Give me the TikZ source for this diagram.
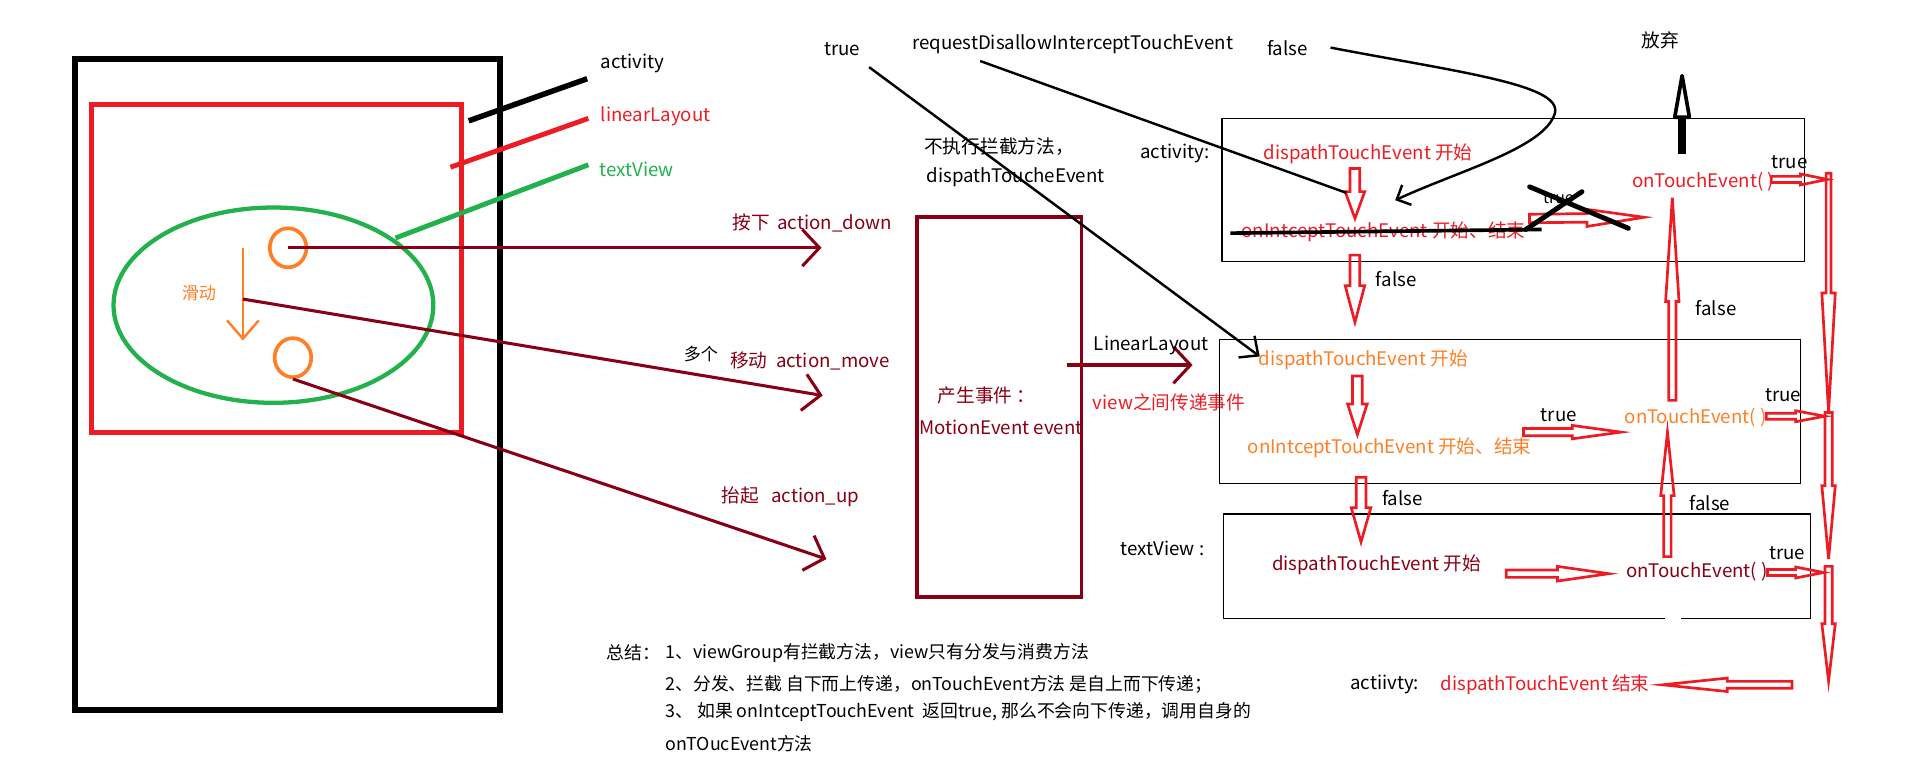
\documentclass[tikz,border=0pt]{standalone}
\usepackage{fontspec}
\setmainfont{Noto Sans CJK SC}
\usetikzlibrary{arrows.meta, calc, shapes.geometric}

\definecolor{pred}{RGB}{237,28,36}
\definecolor{pmaroon}{RGB}{136,0,21}
\definecolor{porange}{RGB}{255,127,39}
\definecolor{pgreen}{RGB}{34,177,76}

% paint style hollow arrow: from, to, shaft half width, head half width, head length
\newcommand{\hollowarrow}[5]{%
  \coordinate (hb) at ($(#2)!#5!(#1)$);
  \draw[hollow] ($(#1)!#3!90:(#2)$) -- ($(hb)!#3!90:(#2)$) -- ($(hb)!#4!90:(#2)$) -- (#2)
    -- ($(hb)!#4!-90:(#2)$) -- ($(hb)!#3!-90:(#2)$) -- ($(#1)!#3!-90:(#2)$) -- cycle;
}

\begin{document}
\begin{tikzpicture}[
    x=1pt, y=-1pt,
    txt/.style={anchor=west, inner sep=0pt, font=\fontsize{15.3}{18}\selectfont},
    small txt/.style={txt, font=\fontsize{13}{16}\selectfont},
    note/.style={txt, font=\fontsize{14.6}{18}\selectfont},
    hollow/.style={draw=pred, line width=2.2pt, line join=miter},
    flow box/.style={draw, line width=1pt, inner sep=0pt},
    event line/.style={draw=pmaroon, line width=2.5pt, -{Straight Barb[length=14pt, width=30pt]}},
    pen line/.style={line width=2pt}
]
    \useasboundingbox (0,0) rectangle (1568,635);

    % Screen
    \draw[line width=4.5pt] (61.5,48.5) rectangle (409.5,581.5);
    \draw[pred, line width=4pt] (75,85.5) rectangle (378,354);
    \node[ellipse, draw=pgreen, line width=3.5pt, minimum width=262, minimum height=160, inner sep=0pt] (tvshape) at (224,250) {};
    \node[ellipse, draw=porange, line width=3pt, minimum width=30, minimum height=32, inner sep=0pt] (downpt) at (236,203) {};
    \node[ellipse, draw=porange, line width=3pt, minimum width=30, minimum height=32, inner sep=0pt] (uppt) at (240,293) {};
    \coordinate (slidetop) at (199,203);
    \coordinate (slidemid) at (199,245);
    \coordinate (slidebot) at (199,279);
    \draw[porange, line width=2pt, -{Straight Barb[length=15pt, width=26pt]}] (slidetop) -- (slidebot);
    \node[txt, anchor=center, text=porange, font=\fontsize{14}{16}\selectfont] (slide) at (163,240) {滑动};

    % Layer labels
    \node[txt] (lblact) at (492,52) {activity};
    \node[txt, text=pred] (lblll) at (492,95) {linearLayout};
    \node[txt, text=pgreen] (lbltv) at (491,139) {textView};
    \coordinate (actpin) at (384,99);   \coordinate (actend) at (481,64.5);
    \coordinate (llpin) at (369,137);   \coordinate (llend) at (482,97);
    \coordinate (tvpin) at (324,195);   \coordinate (tvend) at (482,135);
    \draw[line width=4.5pt] (actpin) -- (actend);
    \draw[pred, line width=4pt] (llpin) -- (llend);
    \draw[pgreen, line width=4pt] (tvpin) -- (tvend);

    % Touch actions
    \coordinate (downtip) at (673,203);
    \coordinate (movetip) at (674,324);
    \coordinate (uptip) at (677,458);
    \draw[event line] (downpt.center) -- (downtip);
    \draw[event line] (slidemid) -- (movetip);
    \draw[event line] (uppt.south) -- (uptip);
    \node[txt, text=pmaroon] (downlbl) at (600,183) {按下\hspace{6pt}action\_down};
    \node[txt, font=\fontsize{14}{16}\selectfont] (manylbl) at (560,290) {多个};
    \node[txt, text=pmaroon] (movelbl) at (598,296) {移动\hspace{7pt}action\_move};
    \node[txt, text=pmaroon] (uplbl) at (591,407) {抬起\hspace{10pt}action\_up};

    % Event source
    \node[draw=pmaroon, line width=3pt, minimum width=135, minimum height=311, inner sep=0pt] (evbox) at (818.5,333.5) {};
    \node[txt, text=pmaroon] (evlbl1) at (768,324) {产生事件 ：};
    \node[txt, text=pmaroon] (evlbl2) at (753,350) {MotionEvent event};
    \coordinate (evout) at (874,299);
    \coordinate (llin) at (977,299);
    \draw[event line] (evout) -- (llin);
    \node[txt] (llname) at (896,283) {LinearLayout};
    \node[txt, text=pred] (viewlbl) at (895,330) {view之间传递事件};

    % Top notes
    \node[txt] (truelbl) at (675,40) {true};
    \node[txt] (reqlbl) at (747,36) {requestDisallowInterceptTouchEvent};
    \node[txt] (falselbl) at (1038,39) {false};
    \node[txt, anchor=center] (quitlbl) at (1360,33) {放弃};
    \node[txt] (noint1) at (757,120) {不执行拦截方法，};
    \node[txt] (noint2) at (759,145) {dispathToucheEvent};

    % Boxes
    \node[flow box, minimum width=477, minimum height=117] (actbox) at (1239.5,155.5) {};
    \node[flow box, minimum width=476, minimum height=118] (llbox) at (1237,337) {};
    \node[flow box, minimum width=481, minimum height=86] (tvbox) at (1242.5,464) {};
    \draw[white, line width=3pt] (1364,507) -- (1377,507);

    % Activity
    \node[txt] (actname) at (934,126) {activity:};
    \node[txt, text=pred] (actdisp) at (1035,126) {dispathTouchEvent 开始};
    \node[txt, text=pred] (actint) at (1017,190) {onIntceptTouchEvent 开始、结束};
    \node[small txt] (xtrue) at (1264,162) {true};
    \node[txt, text=pred] (acttouch) at (1337,149) {onTouchEvent( )};
    \node[txt] (acttrue) at (1451,133) {true};
    \node[txt] (actfalse) at (1127,229) {false};
    \node[txt] (llfalse) at (1389,252) {false};

    % LinearLayout
    \node[txt, text=porange] (lldisp) at (1031,295) {dispathTouchEvent 开始};
    \node[txt, text=porange] (llint) at (1022,367) {onIntceptTouchEvent 开始、结束};
    \node[txt] (lltrue) at (1262,340) {true};
    \node[txt, text=porange] (lltouch) at (1331,342) {onTouchEvent( )};
    \node[txt] (lltrue2) at (1446,324) {true};
    \node[txt] (tvfalse) at (1132,408) {false};

    % TextView
    \node[txt] (tvname) at (918,449) {textView :};
    \node[txt, text=pmaroon] (tvdisp) at (1042,463) {dispathTouchEvent 开始};
    \node[txt, text=pmaroon] (tvtouch) at (1332,468) {onTouchEvent( )};
    \node[txt] (tvtrue) at (1449,453) {true};
    \node[txt] (tvfalse2) at (1384,412) {false};

    % End
    \node[txt] (endname) at (1106,561) {actiivty:};
    \node[txt, text=pred] (enddisp) at (1180,561) {dispathTouchEvent 结束};

    % Hollow arrows
    \coordinate (a1s) at (1110,138); \coordinate (a1e) at (1110,179);
    \coordinate (a2s) at (1110,209); \coordinate (a2e) at (1110,264);
    \coordinate (a3s) at (1253,179); \coordinate (a3e) at (1347,178);
    \coordinate (a4s) at (1451,147); \coordinate (a4e) at (1497,147);
    \coordinate (l1s) at (1112,308); \coordinate (l1e) at (1112,356);
    \coordinate (l2s) at (1115,391); \coordinate (l2e) at (1115,444);
    \coordinate (l3s) at (1248,354); \coordinate (l3e) at (1328,354);
    \coordinate (l4s) at (1447,341); \coordinate (l4e) at (1495,341);
    \coordinate (u1s) at (1370,328); \coordinate (u1e) at (1370,162);
    \coordinate (t1s) at (1234,470); \coordinate (t1e) at (1318,470);
    \coordinate (t2s) at (1448,469); \coordinate (t2e) at (1494,469);
    \coordinate (u2s) at (1366,456); \coordinate (u2e) at (1366,354);
    \coordinate (c1s) at (1498,142); \coordinate (c1e) at (1498,338);
    \coordinate (c2s) at (1498,338); \coordinate (c2e) at (1498,458);
    \coordinate (c3s) at (1498,464); \coordinate (c3e) at (1498,558);
    \coordinate (b1s) at (1468,561); \coordinate (b1e) at (1362,561);
    \hollowarrow{a1s}{a1e}{4pt}{8pt}{22pt}
    \hollowarrow{a2s}{a2e}{4pt}{8pt}{30pt}
    \hollowarrow{a3s}{a3e}{3.5pt}{7pt}{47pt}
    \hollowarrow{a4s}{a4e}{2.5pt}{4.5pt}{22pt}
    \hollowarrow{l1s}{l1e}{4pt}{8pt}{25pt}
    \hollowarrow{l2s}{l2e}{4pt}{8pt}{28pt}
    \hollowarrow{l3s}{l3e}{3pt}{5.5pt}{40pt}
    \hollowarrow{l4s}{l4e}{2.5pt}{4.5pt}{24pt}
    \hollowarrow{u1s}{u1e}{3pt}{5.5pt}{85pt}
    \hollowarrow{t1s}{t1e}{3pt}{6pt}{42pt}
    \hollowarrow{t2s}{t2e}{2.5pt}{4.5pt}{23pt}
    \hollowarrow{u2s}{u2e}{3pt}{5.5pt}{52pt}
    \hollowarrow{c1s}{c1e}{2pt}{5.5pt}{98pt}
    \hollowarrow{c2s}{c2e}{3pt}{5.5pt}{60pt}
    \hollowarrow{c3s}{c3e}{3pt}{5.5pt}{47pt}
    \hollowarrow{b1s}{b1e}{2.8pt}{5.5pt}{53pt}

    % Crossed out
    \draw[line width=3pt] (1008,191) -- (1263,188);
    \draw[line width=4pt, line cap=round] (1250,188) -- (1296,157);
    \draw[line width=4pt, line cap=round] (1253,153) -- (1334,187);

    % Give up
    \coordinate (quitfoot) at (1378,126);
    \coordinate (quithead) at (1378,95);
    \draw[line width=6pt] (quitfoot) -- (quithead);
    \draw[line width=3pt, fill=white, line join=round] (1372,96) -- (1378,62) -- (1384,96) -- cycle;

    % Pen lines
    \coordinate (trueA) at (712,55);   \coordinate (trueB) at (1032,292);
    \coordinate (reqA) at (803,50);    \coordinate (reqB) at (1103,158);
    \coordinate (falseA) at (1090,39); \coordinate (falseB) at (1143,164);
    \draw[pen line, -{Straight Barb[length=12pt, width=22pt]}] (trueA) -- (trueB);
    \draw[pen line] (reqA) -- (reqB);
    \draw[pen line, -{Straight Barb[length=9pt, width=18pt]}] (falseA) .. controls (1200,60) and (1285,70) .. (1273,95) .. controls (1262,122) and (1195,140) .. (falseB);

    % Summary
    \node[note] (sumhead) at (497,535) {总结：};
    \node[note] (sum1) at (545,535) {1、viewGroup有拦截方法，view只有分发与消费方法};
    \node[note] (sum2) at (545,561) {2、分发、拦截 自下而上传递，onTouchEvent方法 是自上而下传递；};
    \node[note] (sum3) at (545,583) {3、 如果 onIntceptTouchEvent\ \ 返回true, 那么不会向下传递，调用自身的};
    \node[note] (sum4) at (545,609) {onTOucEvent方法};
\end{tikzpicture}
\end{document}
